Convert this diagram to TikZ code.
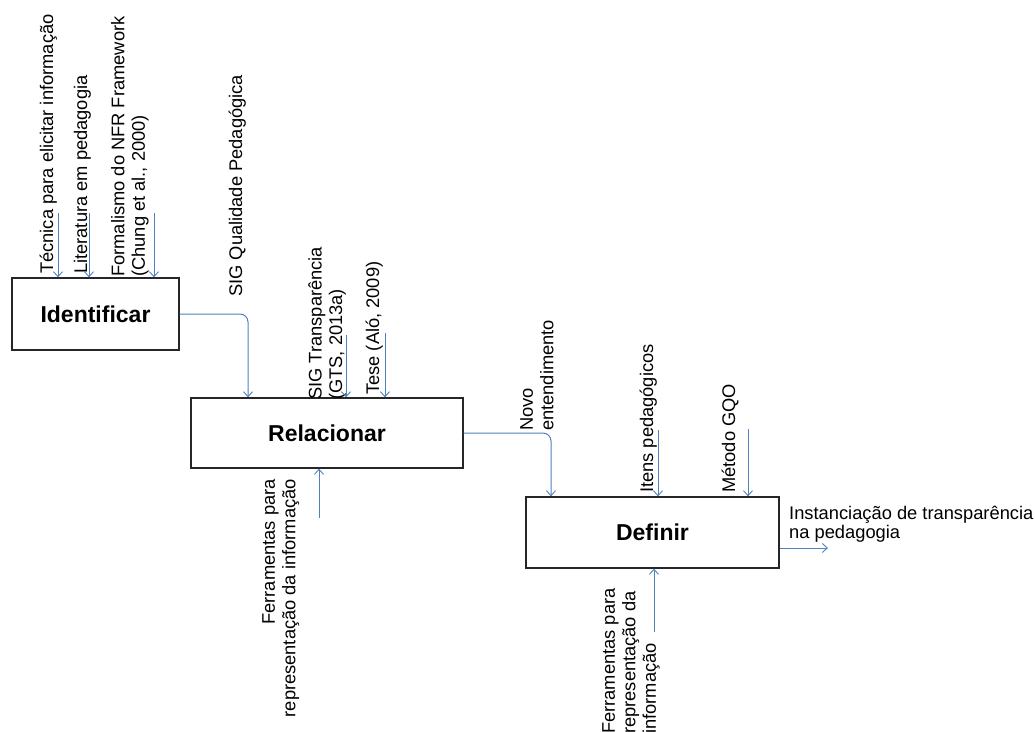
\documentclass[tikz,border=0pt]{standalone}
\usepackage{fontspec}
\setmainfont{Liberation Sans}
\usetikzlibrary{arrows.meta}
\definecolor{lineblue}{RGB}{79,129,189}
\begin{document}
\begin{tikzpicture}[x=1pt,y=-1pt,
  box/.style={draw=black!85,line width=1.3pt,minimum height=#1,inner sep=0pt,font=\fontsize{23}{26}\selectfont\bfseries},
  arr/.style={draw=lineblue,line width=1pt,-{Straight Barb[length=5pt,width=9pt,line width=0.9pt]}},
  flow/.style={arr,rounded corners=8pt},
  vlab/.style={rotate=90,inner sep=0pt,font=\fontsize{18.3}{20.5}\selectfont},
  hlab/.style={inner sep=0pt,font=\fontsize{18.3}{18.5}\selectfont}]
\useasboundingbox (0,0) rectangle (1035,731);
% boxes
\node[box=72pt,minimum width=167pt] (I) at (95.5,314) {Identificar};
\node[box=70pt,minimum width=272pt] (R) at (327,433) {Relacionar};
\node[box=71pt,minimum width=253pt] (D) at (652.5,532.5) {Definir};
% labels
\node[vlab,anchor=base west] (t1) at (53,274) {Técnica para elicitar informação};
\node[vlab,anchor=base west] (t2) at (87,274) {Literatura em pedagogia};
\node[vlab,anchor=north west,align=left] (t3) at (111,277) {Formalismo do NFR Framework\\(Chung et al., 2000)};
\node[vlab,anchor=base west] (t4) at (242,297) {SIG Qualidade Pedagógica};
\node[vlab,anchor=north west,align=left] (t5) at (308,400) {SIG Transparência\\(GTS, 2013a)};
\node[vlab,anchor=base west] (t6) at (379,395) {Tese (Aló, 2009)};
\node[vlab,anchor=north east,align=right] (t7) at (262,479) {Ferramentas para\\representação da informação};
\node[vlab,anchor=north west,align=left] (t8) at (520,431) {Novo\\entendimento};
\node[vlab,anchor=base west] (t9) at (653,493) {Itens pedagógicos};
\node[vlab,anchor=base west] (t10) at (735,493) {Método GQO};
\node[hlab,anchor=north west,align=left] (t11) at (789,506) {Instanciação de transparência\\na pedagogia};
\node[vlab,anchor=north west,align=left] (t12) at (602,734) {Ferramentas para\\representação da\\informação};
% free ends
\coordinate (a1) at (58,213);
\coordinate (a2) at (89,213);
\coordinate (a3) at (154,213);
\coordinate (b1) at (346,335);
\coordinate (b2) at (385,333);
\coordinate (c1) at (319,518);
\coordinate (d1) at (658,430);
\coordinate (d2) at (748,429);
\coordinate (e1) at (654,632);
\coordinate (f1) at (828,548);
% connectors
\draw[arr] (a1) -- (a1 |- I.north);
\draw[arr] (a2) -- (a2 |- I.north);
\draw[arr] (a3) -- (a3 |- I.north);
\draw[flow] (I.east) -- (248,314) -- (248,0 |- R.north);
\draw[arr] (b1) -- (b1 |- R.north);
\draw[arr] (b2) -- (b2 |- R.north);
\draw[arr] (c1) -- (c1 |- R.south);
\draw[flow] (R.east) -- (551,433) -- (551,0 |- D.north);
\draw[arr] (d1) -- (d1 |- D.north);
\draw[arr] (d2) -- (d2 |- D.north);
\draw[arr] (e1) -- (e1 |- D.south);
\draw[arr] (D.east |- f1) -- (f1);
\end{tikzpicture}
\end{document}
